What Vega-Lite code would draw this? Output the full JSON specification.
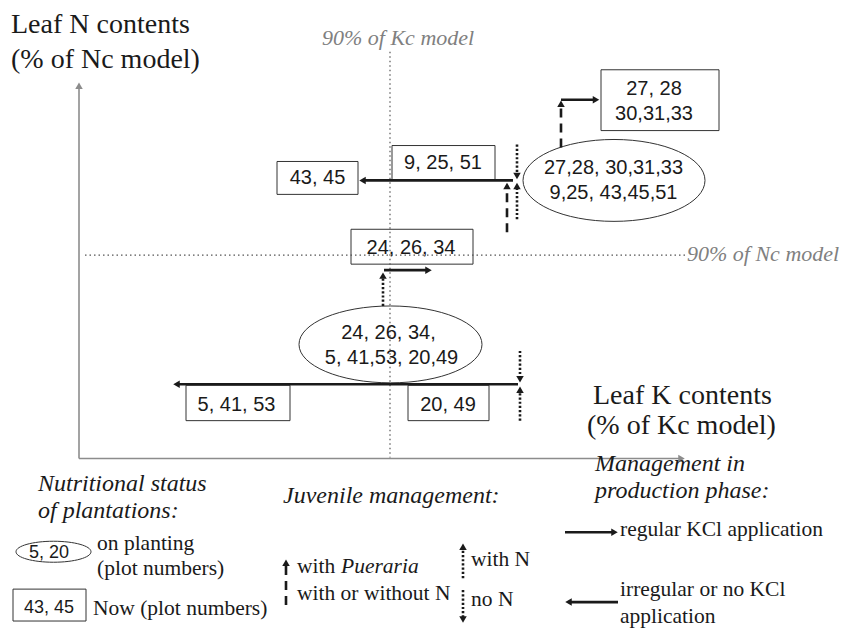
{
  "$schema": "https://vega.github.io/schema/vega-lite/v6.json",
  "width": 845,
  "height": 628,
  "padding": 0,
  "autosize": {"type": "fit", "contains": "padding"},
  "background": "white",
  "config": {"view": {"stroke": null}},
  "datasets": {
    "segments": [
      {"kind": "axis", "x": 79, "y": 460, "x2": 79, "y2": 87},
      {"kind": "axis", "x": 79, "y": 460, "x2": 681, "y2": 460},
      {"kind": "guide", "x": 390, "y": 52, "x2": 390, "y2": 459},
      {"kind": "guide", "x": 85, "y": 256, "x2": 685, "y2": 256},
      {"kind": "solid", "x": 513, "y": 181, "x2": 363, "y2": 181},
      {"kind": "solid", "x": 561, "y": 100, "x2": 596, "y2": 100},
      {"kind": "solid", "x": 384, "y": 271, "x2": 428, "y2": 271},
      {"kind": "solid", "x": 518, "y": 385.5, "x2": 177, "y2": 385.5},
      {"kind": "solid", "x": 565, "y": 534, "x2": 614, "y2": 534},
      {"kind": "solid", "x": 618, "y": 604, "x2": 569, "y2": 604},
      {"kind": "dashed", "x": 561, "y": 148, "x2": 561, "y2": 104},
      {"kind": "dashed", "x": 507, "y": 233, "x2": 507, "y2": 188},
      {"kind": "dashed", "x": 286, "y": 607, "x2": 286, "y2": 566},
      {"kind": "dotted", "x": 517, "y": 145, "x2": 517, "y2": 176},
      {"kind": "dotted", "x": 517, "y": 220, "x2": 517, "y2": 187},
      {"kind": "dotted", "x": 383, "y": 307, "x2": 383, "y2": 277},
      {"kind": "dotted", "x": 520, "y": 352, "x2": 520, "y2": 380},
      {"kind": "dotted", "x": 520, "y": 422, "x2": 520, "y2": 391},
      {"kind": "dotted", "x": 463, "y": 580, "x2": 463, "y2": 549},
      {"kind": "dotted", "x": 463, "y": 592, "x2": 463, "y2": 621}
    ],
    "heads": [
      {"x": 79, "y": 86, "dir": "up", "tone": "axis"},
      {"x": 681.5, "y": 460, "dir": "right", "tone": "axis"},
      {"x": 362.5, "y": 181, "dir": "left", "tone": "flow"},
      {"x": 561, "y": 104, "dir": "up", "tone": "flow"},
      {"x": 596, "y": 100, "dir": "right", "tone": "flow"},
      {"x": 507, "y": 186.5, "dir": "up", "tone": "flow"},
      {"x": 517, "y": 176.5, "dir": "down", "tone": "flow"},
      {"x": 517, "y": 186.5, "dir": "up", "tone": "flow"},
      {"x": 383, "y": 276.5, "dir": "up", "tone": "flow"},
      {"x": 428.5, "y": 271, "dir": "right", "tone": "flow"},
      {"x": 176.5, "y": 385.5, "dir": "left", "tone": "flow"},
      {"x": 520, "y": 380.5, "dir": "down", "tone": "flow"},
      {"x": 520, "y": 391, "dir": "up", "tone": "flow"},
      {"x": 286, "y": 564.5, "dir": "up", "tone": "flow"},
      {"x": 463, "y": 548.5, "dir": "up", "tone": "flow"},
      {"x": 463, "y": 621.5, "dir": "down", "tone": "flow"},
      {"x": 614.5, "y": 534, "dir": "right", "tone": "flow"},
      {"x": 568.5, "y": 604, "dir": "left", "tone": "flow"}
    ],
    "boxes": [
      {"x": 277, "x2": 358, "y": 162, "y2": 195},
      {"x": 392, "x2": 495, "y": 146, "y2": 181},
      {"x": 601, "x2": 719, "y": 70, "y2": 131},
      {"x": 351, "x2": 473, "y": 230, "y2": 265},
      {"x": 186, "x2": 290, "y": 386.5, "y2": 422},
      {"x": 408, "x2": 489, "y": 386.5, "y2": 422},
      {"x": 13, "x2": 86, "y": 591, "y2": 623}
    ],
    "ellipses": [
      {"id": "top", "x": 614, "y": 181},
      {"id": "low", "x": 390.5, "y": 345.5},
      {"id": "legend", "x": 53.5, "y": 553.5}
    ],
    "texts": [
      {"role": "axisTitle", "x": 11, "y": 33, "text": "Leaf N contents"},
      {"role": "axisTitle", "x": 11, "y": 68, "text": "(% of Nc model)"},
      {"role": "axisTitle", "x": 593, "y": 405, "text": "Leaf K contents"},
      {"role": "axisTitle", "x": 587, "y": 435, "text": "(% of Kc model)"},
      {"role": "guide", "x": 322, "y": 45, "text": "90% of Kc model"},
      {"role": "guide", "x": 687, "y": 262, "text": "90% of Nc model"},
      {"role": "box", "x": 317.5, "y": 185, "text": "43, 45"},
      {"role": "box", "x": 443, "y": 170, "text": "9, 25, 51"},
      {"role": "box", "x": 654, "y": 95, "text": "27, 28"},
      {"role": "box", "x": 654, "y": 120, "text": "30,31,33"},
      {"role": "box", "x": 613.5, "y": 175, "text": "27,28, 30,31,33"},
      {"role": "box", "x": 613.5, "y": 200, "text": "9,25, 43,45,51"},
      {"role": "box", "x": 411, "y": 255, "text": "24, 26, 34"},
      {"role": "box", "x": 388.5, "y": 340, "text": "24, 26, 34,"},
      {"role": "box", "x": 391.5, "y": 365, "text": "5, 41,53, 20,49"},
      {"role": "box", "x": 236.5, "y": 412, "text": "5, 41, 53"},
      {"role": "box", "x": 448, "y": 412, "text": "20, 49"},
      {"role": "legendBox", "x": 49, "y": 560, "text": "5, 20"},
      {"role": "legendBox", "x": 49, "y": 615, "text": "43, 45"},
      {"role": "heading", "x": 38, "y": 493, "text": "Nutritional status"},
      {"role": "heading", "x": 38, "y": 520, "text": "of plantations:"},
      {"role": "heading", "x": 283, "y": 505, "text": "Juvenile management:"},
      {"role": "heading", "x": 595, "y": 473, "text": "Management in"},
      {"role": "heading", "x": 595, "y": 500, "text": "production phase:"},
      {"role": "legend", "x": 97, "y": 552, "text": "on planting"},
      {"role": "legend", "x": 97, "y": 577, "text": "(plot numbers)"},
      {"role": "legend", "x": 93, "y": 617, "text": "Now (plot numbers)"},
      {"role": "legend", "x": 297, "y": 575, "text": "with"},
      {"role": "legendItalic", "x": 341, "y": 575, "text": "Pueraria"},
      {"role": "legend", "x": 297, "y": 602, "text": "with or without N"},
      {"role": "legend", "x": 471, "y": 568, "text": "with N"},
      {"role": "legend", "x": 471, "y": 608, "text": "no N"},
      {"role": "legend", "x": 620, "y": 538, "text": "regular KCl application"},
      {"role": "legend", "x": 620, "y": 598, "text": "irregular or no KCl"},
      {"role": "legend", "x": 620, "y": 625, "text": "application"}
    ]
  },
  "encoding": {
    "x": {"field": "x", "type": "quantitative", "scale": {"domain": [0, 845], "nice": false, "zero": false}, "axis": null},
    "y": {"field": "y", "type": "quantitative", "scale": {"domain": [0, 628], "nice": false, "zero": false, "reverse": true}, "axis": null}
  },
  "layer": [
    {
      "data": {"name": "boxes"},
      "mark": {"type": "rect", "fill": "transparent", "stroke": "#333333", "strokeWidth": 1},
      "encoding": {"x2": {"field": "x2"}, "y2": {"field": "y2"}}
    },
    {
      "data": {"name": "ellipses"},
      "transform": [{"filter": "datum.id === 'top'"}],
      "mark": {"type": "point", "filled": false, "color": "#333333", "opacity": 1, "strokeWidth": 1, "size": 33124,
        "shape": "M-1,0C-1,-0.2485,-0.5523,-0.45,0,-0.45C0.5523,-0.45,1,-0.2485,1,0C1,0.2485,0.5523,0.45,0,0.45C-0.5523,0.45,-1,0.2485,-1,0Z"},
      "encoding": {}
    },
    {
      "data": {"name": "ellipses"},
      "transform": [{"filter": "datum.id === 'low'"}],
      "mark": {"type": "point", "filled": false, "color": "#333333", "opacity": 1, "strokeWidth": 1, "size": 33489,
        "shape": "M-1,0C-1,-0.232,-0.5523,-0.42,0,-0.42C0.5523,-0.42,1,-0.232,1,0C1,0.232,0.5523,0.42,0,0.42C-0.5523,0.42,-1,0.232,-1,0Z"},
      "encoding": {}
    },
    {
      "data": {"name": "ellipses"},
      "transform": [{"filter": "datum.id === 'legend'"}],
      "mark": {"type": "point", "filled": false, "color": "#333333", "opacity": 1, "strokeWidth": 1, "size": 5625,
        "shape": "M-1,0C-1,-0.155,-0.5523,-0.28,0,-0.28C0.5523,-0.28,1,-0.155,1,0C1,0.155,0.5523,0.28,0,0.28C-0.5523,0.28,-1,0.155,-1,0Z"},
      "encoding": {}
    },
    {
      "data": {"name": "segments"},
      "transform": [{"filter": "datum.kind === 'axis'"}],
      "mark": {"type": "rule", "color": "#8c8c8c", "strokeWidth": 1.6},
      "encoding": {"x2": {"field": "x2"}, "y2": {"field": "y2"}}
    },
    {
      "data": {"name": "segments"},
      "transform": [{"filter": "datum.kind === 'guide'"}],
      "mark": {"type": "rule", "color": "#555555", "strokeWidth": 1.2, "strokeDash": [1.5, 3]},
      "encoding": {"x2": {"field": "x2"}, "y2": {"field": "y2"}}
    },
    {
      "data": {"name": "segments"},
      "transform": [{"filter": "datum.kind === 'solid'"}],
      "mark": {"type": "rule", "color": "#1a1a1a", "strokeWidth": 2.6},
      "encoding": {"x2": {"field": "x2"}, "y2": {"field": "y2"}}
    },
    {
      "data": {"name": "segments"},
      "transform": [{"filter": "datum.kind === 'dashed'"}],
      "mark": {"type": "rule", "color": "#1a1a1a", "strokeWidth": 2.6, "strokeDash": [9, 6]},
      "encoding": {"x2": {"field": "x2"}, "y2": {"field": "y2"}}
    },
    {
      "data": {"name": "segments"},
      "transform": [{"filter": "datum.kind === 'dotted'"}],
      "mark": {"type": "rule", "color": "#1a1a1a", "strokeWidth": 2.6, "strokeDash": [2.2, 2]},
      "encoding": {"x2": {"field": "x2"}, "y2": {"field": "y2"}}
    },
    {
      "data": {"name": "heads"},
      "mark": {"type": "point", "filled": true, "opacity": 1, "size": 56},
      "encoding": {
        "shape": {"field": "dir", "type": "nominal", "scale": {"domain": ["up", "down", "left", "right"], "range": ["triangle-up", "triangle-down", "triangle-left", "triangle-right"]}, "legend": null},
        "color": {"field": "tone", "type": "nominal", "scale": {"domain": ["axis", "flow"], "range": ["#8c8c8c", "#1a1a1a"]}, "legend": null}
      }
    },
    {
      "data": {"name": "texts"},
      "transform": [{"filter": "datum.role === 'axisTitle'"}],
      "mark": {"type": "text", "font": "Liberation Serif", "fontSize": 28, "align": "left", "baseline": "alphabetic", "color": "#1a1a1a"},
      "encoding": {"text": {"field": "text"}}
    },
    {
      "data": {"name": "texts"},
      "transform": [{"filter": "datum.role === 'guide'"}],
      "mark": {"type": "text", "font": "Liberation Serif", "fontSize": 22, "fontStyle": "italic", "align": "left", "baseline": "alphabetic", "color": "#808080"},
      "encoding": {"text": {"field": "text"}}
    },
    {
      "data": {"name": "texts"},
      "transform": [{"filter": "datum.role === 'box'"}],
      "mark": {"type": "text", "font": "Liberation Sans", "fontSize": 20, "align": "center", "baseline": "alphabetic", "color": "#1a1a1a"},
      "encoding": {"text": {"field": "text"}}
    },
    {
      "data": {"name": "texts"},
      "transform": [{"filter": "datum.role === 'legendBox'"}],
      "mark": {"type": "text", "font": "Liberation Sans", "fontSize": 18, "align": "center", "baseline": "alphabetic", "color": "#1a1a1a"},
      "encoding": {"text": {"field": "text"}}
    },
    {
      "data": {"name": "texts"},
      "transform": [{"filter": "datum.role === 'heading'"}],
      "mark": {"type": "text", "font": "Liberation Serif", "fontSize": 24, "fontStyle": "italic", "align": "left", "baseline": "alphabetic", "color": "#1a1a1a"},
      "encoding": {"text": {"field": "text"}}
    },
    {
      "data": {"name": "texts"},
      "transform": [{"filter": "datum.role === 'legend'"}],
      "mark": {"type": "text", "font": "Liberation Serif", "fontSize": 21.5, "align": "left", "baseline": "alphabetic", "color": "#1a1a1a"},
      "encoding": {"text": {"field": "text"}}
    },
    {
      "data": {"name": "texts"},
      "transform": [{"filter": "datum.role === 'legendItalic'"}],
      "mark": {"type": "text", "font": "Liberation Serif", "fontSize": 21.5, "fontStyle": "italic", "align": "left", "baseline": "alphabetic", "color": "#1a1a1a"},
      "encoding": {"text": {"field": "text"}}
    }
  ]
}
